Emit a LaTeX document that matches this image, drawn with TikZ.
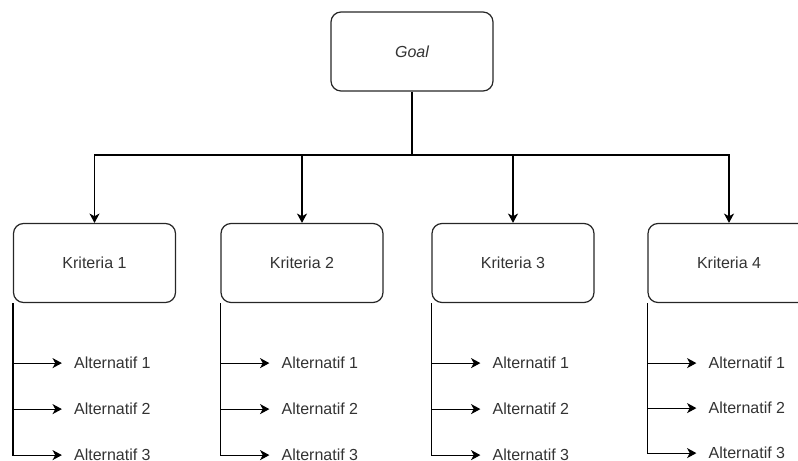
\documentclass[tikz,border=0pt]{standalone}
\usepackage{fontspec}
\setmainfont{Liberation Sans}
\usetikzlibrary{arrows.meta,positioning,calc}
\definecolor{inkgrey}{RGB}{51,51,51}
\tikzset{
  crit/.style={draw=black!85,line width=0.9pt,rounded corners=7.5pt,minimum width=121.5pt,minimum height=59.25pt,inner sep=0pt,font=\fontsize{12}{14}\selectfont,text=inkgrey},
  goalbox/.style={crit,font=\fontsize{12}{14}\selectfont\itshape},
  alt/.style={anchor=west,inner xsep=9pt,inner ysep=0pt,font=\fontsize{12}{14}\selectfont,text=inkgrey},
  arr/.style={-{Stealth[length=7pt,width=7.5pt,inset=2pt]},draw=black,line width=0.9pt},
  feed/.style={draw=black,line width=0.9pt}
}
\begin{document}
\begin{tikzpicture}[x=0.75pt,y=-0.75pt]
\useasboundingbox (0,0) rectangle (798,460);
\clip (0,0) rectangle (798,460);
\node[goalbox] (goal) at (412,51.5) {Goal};
\node[crit] (k1) at (94.5,263) {Kriteria 1};
\node[crit] (k2) at (302,263) {Kriteria 2};
\node[crit] (k3) at (513,263) {Kriteria 3};
\node[crit] (k4) at (729,263) {Kriteria 4};
\coordinate (bus) at (412,155);
\draw[feed] (goal.south) -- (bus);
\draw[arr] (bus) -| (k1.north);
\draw[arr] (bus) -| (k2.north);
\draw[arr] (bus) -| (k3.north);
\draw[arr] (bus) -| (k4.north);
% alternatives under each criterion
\node[alt] (a11) at ($(k1.south west)+(49,60)$) {Alternatif 1};
\node[alt] (a12) at ($(k1.south west)+(49,106)$) {Alternatif 2};
\node[alt] (a13) at ($(k1.south west)+(49,152)$) {Alternatif 3};
\node[alt] (a21) at ($(k2.south west)+(49,60)$) {Alternatif 1};
\node[alt] (a22) at ($(k2.south west)+(49,106)$) {Alternatif 2};
\node[alt] (a23) at ($(k2.south west)+(49,152)$) {Alternatif 3};
\node[alt] (a31) at ($(k3.south west)+(49,60)$) {Alternatif 1};
\node[alt] (a32) at ($(k3.south west)+(49,106)$) {Alternatif 2};
\node[alt] (a33) at ($(k3.south west)+(49,152)$) {Alternatif 3};
\node[alt] (a41) at ($(k4.south west)+(49,60)$) {Alternatif 1};
\node[alt] (a42) at ($(k4.south west)+(49,105)$) {Alternatif 2};
\node[alt] (a43) at ($(k4.south west)+(49,150)$) {Alternatif 3};
\draw[arr] (k1.south west) |- (a11.west);
\draw[arr] (k1.south west) |- (a12.west);
\draw[arr] (k1.south west) |- (a13.west);
\draw[arr] (k2.south west) |- (a21.west);
\draw[arr] (k2.south west) |- (a22.west);
\draw[arr] (k2.south west) |- (a23.west);
\draw[arr] (k3.south west) |- (a31.west);
\draw[arr] (k3.south west) |- (a32.west);
\draw[arr] (k3.south west) |- (a33.west);
\draw[arr] (k4.south west) |- (a41.west);
\draw[arr] (k4.south west) |- (a42.west);
\draw[arr] (k4.south west) |- (a43.west);
\end{tikzpicture}
\end{document}
